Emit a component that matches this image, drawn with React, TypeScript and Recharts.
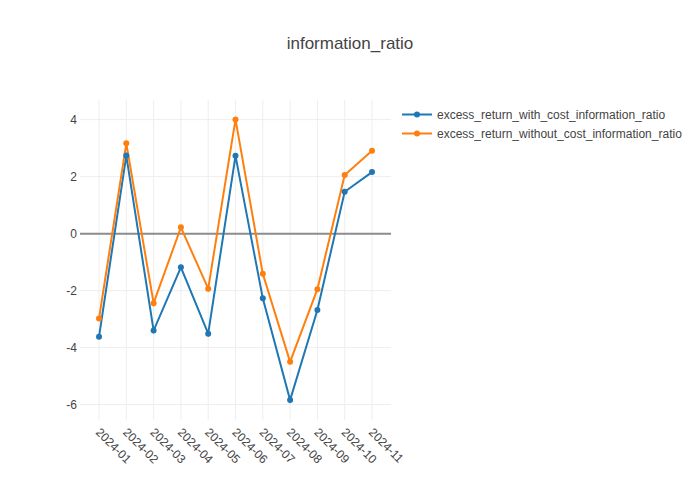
import React from 'react';
import { LineChart, Line, XAxis, YAxis, ReferenceLine, Legend } from 'recharts';

const months = ['2024-01', '2024-02', '2024-03', '2024-04', '2024-05', '2024-06', '2024-07', '2024-08', '2024-09', '2024-10', '2024-11'];
const withCost = [-3.62, 2.74, -3.40, -1.18, -3.51, 2.73, -2.27, -5.84, -2.68, 1.47, 2.16];
const withoutCost = [-2.98, 3.17, -2.44, 0.22, -1.93, 4.01, -1.41, -4.50, -1.95, 2.06, 2.91];
const yTicks = [-6, -4, -2, 0, 2, 4];

const seriesNames = ['excess_return_with_cost_information_ratio', 'excess_return_without_cost_information_ratio'];
const colors = ['#1f77b4', '#ff7f0e'];

const data = months.map((m, i) => ({ month: m, a: withCost[i], b: withoutCost[i] }));

const FONT = '"Liberation Sans", Arial, sans-serif';

const XTick = (props: any) => {
  const { x, y, payload } = props;
  const tx = x - 4;
  const ty = y + 13;
  return (
    <text x={tx} y={ty} transform={`rotate(45, ${tx}, ${ty})`} textAnchor="start" fill="#444" fontSize={12} fontFamily={FONT}>
      {payload.value}
    </text>
  );
};

const renderLegend = () => (
  <div style={{ fontFamily: FONT, fontSize: 12, color: '#444' }}>
    {seriesNames.map((n, i) => (
      <div key={n} style={{ display: 'flex', alignItems: 'center', height: 19 }}>
        <svg width={35} height={19} style={{ display: 'block' }}>
          <line x1={0} y1={9.5} x2={30} y2={9.5} stroke={colors[i]} strokeWidth={2} />
          <circle cx={15} cy={9.5} r={3} fill={colors[i]} />
        </svg>
        <span style={{ whiteSpace: 'nowrap' }}>{n}</span>
      </div>
    ))}
  </div>
);

export default function App() {
  return (
    <div style={{ position: 'absolute', left: 0, top: 0, width: 700, height: 500, background: '#fff' }}>
      <div style={{ position: 'absolute', left: 0, top: 34, width: 700, textAlign: 'center', fontFamily: FONT, fontSize: 17, color: '#444' }}>
        information_ratio
      </div>
      <LineChart width={700} height={500} data={data} margin={{ top: 100, right: 309, bottom: 0, left: 40 }}>
        <XAxis
          dataKey="month"
          padding={{ left: 19, right: 19 }}
          axisLine={false}
          tickLine={false}
          tickSize={0}
          tickMargin={0}
          height={80}
          interval={0}
          tick={<XTick />}
        />
        <YAxis
          domain={[-6.54, 4.69]}
          ticks={yTicks}
          allowDataOverflow
          axisLine={false}
          tickLine={false}
          tickSize={0}
          tickMargin={3}
          width={40}
          tick={{ fill: '#444', fontSize: 12, fontFamily: FONT }}
        />
        {months.map((m) => (
          <ReferenceLine key={'v' + m} x={m} stroke="#eee" strokeWidth={1} />
        ))}
        {yTicks.filter((t) => t !== 0).map((t) => (
          <ReferenceLine key={'h' + t} y={t} stroke="#eee" strokeWidth={1} />
        ))}
        <ReferenceLine y={0} stroke="#8c8c8c" strokeWidth={2} />
        <Legend
          layout="vertical"
          align="center"
          verticalAlign="middle"
          content={renderLegend}
          wrapperStyle={{ left: 402, top: 105, width: 290 }}
        />
        <Line dataKey="a" name={seriesNames[0]} stroke={colors[0]} strokeWidth={2} dot={{ r: 3, fill: colors[0], stroke: colors[0], strokeWidth: 0 }} activeDot={false} isAnimationActive={false} />
        <Line dataKey="b" name={seriesNames[1]} stroke={colors[1]} strokeWidth={2} dot={{ r: 3, fill: colors[1], stroke: colors[1], strokeWidth: 0 }} activeDot={false} isAnimationActive={false} />
      </LineChart>
    </div>
  );
}
